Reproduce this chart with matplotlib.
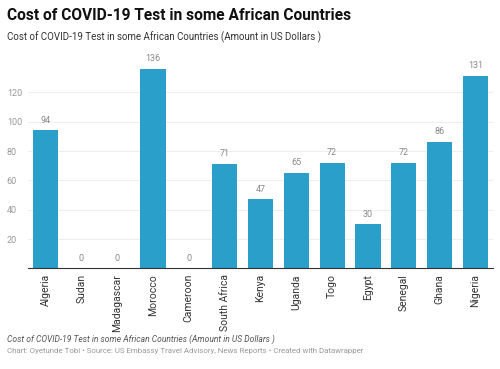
import matplotlib
matplotlib.use('Agg')
import matplotlib.pyplot as plt
import numpy as np

plt.rcParams['font.family'] = ['Roboto', 'DejaVu Sans']

# data
countries = ['Algeria', 'Sudan', 'Madagascar', 'Morocco', 'Cameroon', 'South Africa',
             'Kenya', 'Uganda', 'Togo', 'Egypt', 'Senegal', 'Ghana', 'Nigeria']
cost = [94, 0, 0, 136, 0, 71, 47, 65, 72, 30, 72, 86, 131]
yticks = [20, 40, 60, 80, 100, 120]

bar_col = '#2a9fca'

fig = plt.figure(figsize=(5, 3.69), dpi=100)
ax = fig.add_axes([0.0552, 0.2724, 0.9316, 0.565])

x = np.arange(len(countries))
ax.bar(x, cost, width=0.7, color=bar_col, zorder=2)
for xi, v in zip(x, cost):
    ax.text(xi, v + 4, str(v), ha='center', va='bottom', fontsize=6.5, color='#888888')

ax.set_xlim(-0.5, len(countries) - 0.5)
ax.set_ylim(0, 142)
ax.set_yticks(yticks)
ax.set_yticklabels([str(t) for t in yticks], fontsize=6.5, color='#999999')
ax.yaxis.grid(True, color='#eeeeee', linewidth=0.8, zorder=0)
for lab in ax.get_yticklabels():
    lab.set_horizontalalignment('left')
ax.tick_params(axis='y', length=0, pad=15)

ax.set_xticks(x)
ax.set_xticklabels(countries, rotation=90, fontsize=7.5, color='#333333')
ax.tick_params(axis='x', length=0, pad=4)

for s in ['top', 'right', 'left']:
    ax.spines[s].set_visible(False)
ax.spines['bottom'].set_color('#333333')
ax.spines['bottom'].set_linewidth(0.8)

fig.text(0.014, 0.958, 'Cost of COVID-19 Test in some African Countries',
         fontsize=11.2, fontweight='bold', color='#111111', va='center')
fig.text(0.014, 0.9, 'Cost of COVID-19 Test in some African Countries (Amount in US Dollars )',
         fontsize=7, color='#333333', va='center')
fig.text(0.014, 0.082, 'Cost of COVID-19 Test in some African Countries (Amount in US Dollars )',
         fontsize=6.15, style='italic', color='#555555', va='center')
fig.text(0.014, 0.048, 'Chart: Oyetunde Tobi \u2022 Source: US Embassy Travel Advisory, News Reports \u2022 Created with Datawrapper',
         fontsize=5.7, color='#999999', va='center')

fig.savefig('out.png', dpi=100, facecolor='white')
